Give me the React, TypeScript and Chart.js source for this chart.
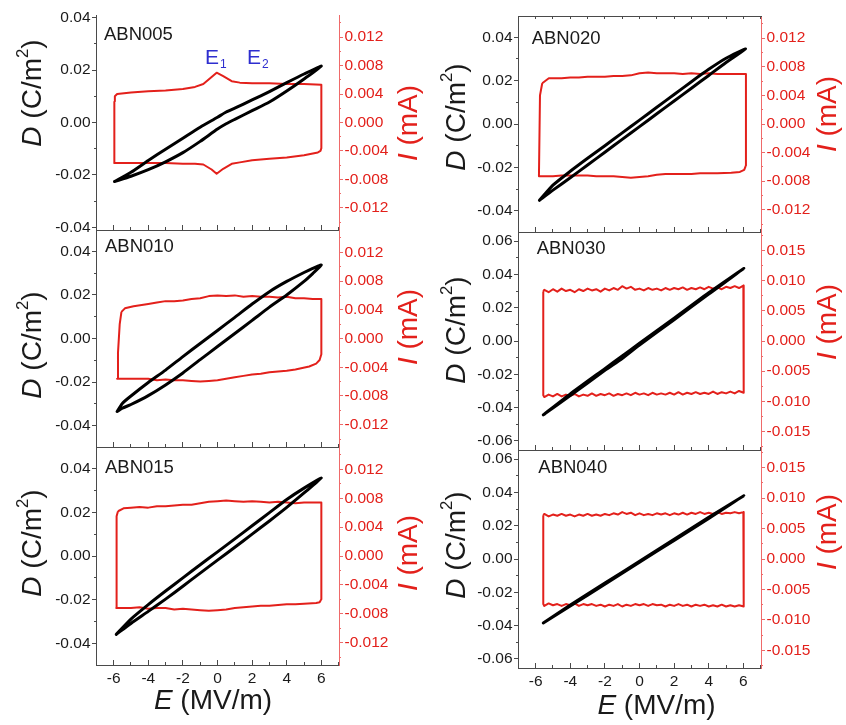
import React, { useEffect, useRef } from "react";
import { Chart, registerables } from "chart.js";

Chart.register(...registerables);

const W = 846;
const H = 725;
const FONT = "'Liberation Sans', Arial, Helvetica, sans-serif";
const TEXT = "#1a1a1a";
const AXIS = "#4a4a4a";
const RED = "#e3201b";
const RED_AXIS = "#ef6a6a";
const BLUE = "#2e2ecf";

// ---------- shared E axis ----------
const E_LIMIT = 7.02;
const E_MAJOR_STEP = 2;
const E_MINOR_STEP = 1;

// ---------- ABN005 ----------
const ABN005_D_E = [-5.95, -5, -4, -3, -2, -1, 0, 0.5, 1, 2, 3, 4, 5, 6, 5, 4, 3, 2, 1, 0.5, 0, -1, -2, -3, -4, -5, -5.95];
const ABN005_D = [-0.0225, -0.0205, -0.018, -0.015, -0.0115, -0.0072, -0.0025, -0.0005, 0.0012, 0.0045, 0.0078, 0.012, 0.0166, 0.0215,
  0.0185, 0.0152, 0.0118, 0.0086, 0.0055, 0.004, 0.002, -0.0018, -0.006, -0.0102, -0.0145, -0.019, -0.0225];
const ABN005_I_E = [-5.96, -5.93, -5.8, -5, -4, -3, -2, -1.3, -0.82, -0.34, -0.05, 0.33, 0.82, 1.29, 2, 3, 4, 5, 6.0,
  6.0, 5.95, 5.8, 5, 4, 3, 2, 1.29, 0.82, 0.33, -0.05, -0.34, -0.82, -1.3, -2, -3, -4, -5, -5.97, -5.96];
const ABN005_I = [0.003, 0.0037, 0.004, 0.0042, 0.0044, 0.0045, 0.0047, 0.005, 0.0054, 0.0064, 0.007, 0.0065, 0.0058, 0.0056, 0.0055, 0.0055, 0.0054, 0.0054, 0.0053,
  -0.0036, -0.004, -0.0042, -0.0046, -0.0049, -0.0051, -0.0053, -0.0056, -0.0058, -0.0065, -0.0072, -0.0066, -0.0059, -0.0058, -0.0058, -0.0057, -0.0057, -0.0057, -0.0057, 0.003];

// ---------- ABN010 ----------
const ABN010_D_E = [-5.8, -5.5, -5, -4, -3, -2, -1, 0, 1, 2, 3, 4, 5, 5.5, 6, 5.5, 5, 4, 3, 2, 1, 0, -1, -2, -3, -4, -5, -5.5, -5.8];
const ABN010_D = [-0.0335, -0.032, -0.0303, -0.0262, -0.0213, -0.0158, -0.0097, -0.0037, 0.0023, 0.0083, 0.0144, 0.02, 0.0262, 0.0298, 0.0337,
  0.0322, 0.0303, 0.0262, 0.0215, 0.0158, 0.0097, 0.0037, -0.0023, -0.0083, -0.0145, -0.0202, -0.0264, -0.0298, -0.0335];
const ABN010_I_E = [-5.55, -5.35, -4.85, -4, -3.5, -3, -2.5, -2, -1.5, -1, -0.5, 0, 0.5, 1, 1.5, 2, 2.5, 3, 3.5, 4, 4.5, 5, 5.5, 6.0,
  6.0, 5.9, 5.7, 5.3, 4.9, 4.5, 4, 3.5, 3, 2.5, 2, 1.5, 1, 0.5, 0, -0.5, -1, -1.5, -2, -2.5, -3, -3.5, -4, -4.5, -5, -5.8, -5.75, -5.65, -5.55];
const ABN010_I = [0.0037, 0.0042, 0.0045, 0.0048, 0.005, 0.0052, 0.0052, 0.0053, 0.0055, 0.0056, 0.0059, 0.006, 0.0059, 0.006, 0.0058, 0.0059, 0.0058, 0.0058, 0.0057, 0.0058, 0.0056, 0.0056, 0.0055, 0.0055,
  -0.0022, -0.003, -0.0035, -0.0039, -0.0041, -0.0043, -0.0045, -0.0046, -0.0047, -0.0049, -0.005, -0.0052, -0.0054, -0.0056, -0.0058, -0.0059, -0.006, -0.0059, -0.0058, -0.0058, -0.0057, -0.0058, -0.0056, -0.0056, -0.0056, -0.0056,
  -0.002, 0.002, 0.0037];

// ---------- ABN015 ----------
const ABN015_D_E = [-5.85, -5, -4, -3, -2, -1, 0, 1, 2, 3, 4, 5, 6, 5, 4, 3, 2, 1, 0, -1, -2, -3, -4, -5, -5.85];
const ABN015_D = [-0.0358, -0.0308, -0.0253, -0.0197, -0.0138, -0.0078, -0.0019, 0.004, 0.01, 0.016, 0.0222, 0.0288, 0.0356,
  0.031, 0.0258, 0.0198, 0.0138, 0.0078, 0.0019, -0.004, -0.01, -0.016, -0.0222, -0.0288, -0.0358];
const ABN015_I_E = [-5.75, -5.43, -5, -4.5, -4, -3.5, -3, -2.5, -2, -1.5, -1, -0.5, 0, 0.5, 1, 1.5, 2, 2.5, 3, 3.5, 4, 4.5, 5, 5.5, 6.0,
  6.0, 5.9, 5.7, 5, 4.5, 4, 3.5, 3, 2.5, 2, 1.5, 1, 0.5, 0, -0.5, -1, -1.5, -2, -2.5, -3, -3.5, -4, -4.5, -5, -5.85, -5.83, -5.75];
const ABN015_I = [0.0062, 0.0066, 0.0067, 0.0068, 0.0067, 0.0069, 0.0069, 0.007, 0.0071, 0.0071, 0.0073, 0.0075, 0.0076, 0.0077, 0.0076, 0.0075, 0.0076, 0.0075, 0.0074, 0.0075, 0.0074, 0.0073, 0.0074, 0.0074, 0.0074,
  -0.006, -0.0064, -0.0065, -0.0066, -0.0067, -0.0067, -0.0068, -0.0069, -0.0069, -0.007, -0.0071, -0.0072, -0.0074, -0.0075, -0.0076, -0.0075, -0.0074, -0.0073, -0.0074, -0.0072, -0.0072, -0.0073, -0.0071, -0.0072, -0.0072,
  0.0055, 0.0062];

// ---------- ABN020 ----------
const ABN020_D_E = [-5.78, -5, -4, -3, -2, -1, 0, 1, 2, 3, 4, 5, 6.13, 5, 4, 3, 2, 1, 0, -1, -2, -3, -4, -5, -5.78];
const ABN020_D = [-0.0352, -0.0305, -0.0248, -0.0189, -0.013, -0.0071, -0.0012, 0.0047, 0.0106, 0.0165, 0.0224, 0.0284, 0.0346,
  0.0303, 0.0252, 0.0195, 0.0136, 0.0077, 0.0018, -0.0041, -0.01, -0.0158, -0.0218, -0.0282, -0.0352];
const ABN020_I_E = [-5.62, -5.24, -5, -4.5, -4, -3.5, -3, -2.5, -2, -1.5, -1, -0.5, 0, 0.5, 1, 1.5, 2, 2.5, 3, 3.5, 4, 4.5, 5, 5.5, 6.15,
  6.15, 6.05, 5.8, 5.3, 4.5, 4, 3.5, 3, 2.5, 2, 1.5, 1, 0.5, 0, -0.5, -1, -1.5, -2, -2.5, -3, -3.5, -4, -4.5, -5, -5.81, -5.75, -5.62];
const ABN020_I = [0.0057, 0.0064, 0.0064, 0.0064, 0.0065, 0.0065, 0.0066, 0.0066, 0.0066, 0.0067, 0.0067, 0.0068, 0.0071, 0.0072, 0.0071, 0.0071, 0.0071, 0.007, 0.0071, 0.007, 0.0071, 0.007, 0.007, 0.007, 0.007,
  -0.0058, -0.0064, -0.0067, -0.0068, -0.0069, -0.0069, -0.0069, -0.007, -0.007, -0.007, -0.007, -0.0071, -0.0073, -0.0074, -0.0075, -0.0074, -0.0073, -0.0073, -0.0073, -0.0072, -0.0072, -0.0072, -0.0072, -0.0073, -0.0073,
  0.004, 0.0057];

// ---------- ABN030 ----------
const ABN030_D_E = [-5.56, -4, -2, -1, 0, 2, 4, 6.03, 4, 2, 0, -1, -2, -4, -5.56];
const ABN030_D = [-0.0444, -0.0328, -0.0176, -0.0105, -0.0024, 0.0128, 0.0282, 0.0436, 0.029, 0.0137, -0.0014, -0.009, -0.0166, -0.0318, -0.0444];
const ABN030_I_E = [-5.56, -5.5, -5.25, -5, -4.75, -4.5, -4.25, -4, -3.75, -3.5, -3.25, -3, -2.75, -2.5, -2.25, -2, -1.75, -1.5, -1.25, -1,
  -0.75, -0.5, -0.25, 0, 0.25, 0.5, 0.75, 1, 1.25, 1.5, 1.75, 2, 2.25, 2.5, 2.75, 3, 3.25, 3.5, 3.75, 4, 4.25, 4.5, 4.75, 5, 5.25, 5.5, 5.75, 6, 6.03];
const ABN030_I_TOP = [
  0.0082, 0.0085, 0.0081, 0.0086, 0.0082, 0.0087, 0.0083,
  0.0085, 0.0081, 0.0086, 0.0083, 0.0087, 0.0084, 0.0086,
  0.0082, 0.0087, 0.0084, 0.0088, 0.0085, 0.0091, 0.0087,
  0.009, 0.0085, 0.0087, 0.0084, 0.0088, 0.0085, 0.0087,
  0.0084, 0.0088, 0.0085, 0.0088, 0.0086, 0.0089, 0.0085,
  0.0088, 0.0086, 0.0089, 0.0086, 0.009, 0.0087, 0.0089,
  0.0086, 0.009, 0.0088, 0.0091, 0.0088, 0.0092, 0.0091];
const ABN030_I_BOTTOM = [
  -0.009, -0.0093, -0.0089, -0.0092, -0.0088, -0.0092, -0.0089,
  -0.0091, -0.0088, -0.0092, -0.0089, -0.0091, -0.0087, -0.0091,
  -0.0088, -0.009, -0.0087, -0.0091, -0.0088, -0.009, -0.0087,
  -0.009, -0.0086, -0.0089, -0.0087, -0.009, -0.0086, -0.0089,
  -0.0087, -0.0089, -0.0086, -0.0089, -0.0085, -0.0089, -0.0086,
  -0.0088, -0.0085, -0.0088, -0.0086, -0.0088, -0.0084, -0.0088,
  -0.0085, -0.0087, -0.0084, -0.0087, -0.0083, -0.0086, -0.0083];

// ---------- ABN040 ----------
const ABN040_D_E = [-5.56, -4, -2, 0, 2, 4, 6.03, 4, 2, 0, -2, -4, -5.56];
const ABN040_D = [-0.0384, -0.0283, -0.0151, -0.002, 0.0112, 0.0244, 0.038, 0.025, 0.0118, -0.0014, -0.0145, -0.0277, -0.0384];
const ABN040_I_E = [-5.56, -5.5, -5.25, -5, -4.75, -4.5, -4.25, -4, -3.75, -3.5, -3.25, -3, -2.75, -2.5, -2.25, -2, -1.75, -1.5, -1.25, -1,
  -0.75, -0.5, -0.25, 0, 0.25, 0.5, 0.75, 1, 1.25, 1.5, 1.75, 2, 2.25, 2.5, 2.75, 3, 3.25, 3.5, 3.75, 4, 4.25, 4.5, 4.75, 5, 5.25, 5.5, 5.75, 6, 6.03];
const ABN040_I_TOP = [
  0.0072, 0.0074, 0.007, 0.0073, 0.0071, 0.0074, 0.0071,
  0.0073, 0.007, 0.0073, 0.0071, 0.0074, 0.0071, 0.0073,
  0.0071, 0.0074, 0.0072, 0.0075, 0.0073, 0.0077, 0.0074,
  0.0076, 0.0072, 0.0075, 0.0072, 0.0074, 0.0072, 0.0075,
  0.0073, 0.0075, 0.0072, 0.0075, 0.0073, 0.0076, 0.0073,
  0.0076, 0.0074, 0.0077, 0.0074, 0.0076, 0.0074, 0.0077,
  0.0074, 0.0076, 0.0075, 0.0077, 0.0075, 0.0077, 0.0077];
const ABN040_I_BOTTOM = [
  -0.0074, -0.0077, -0.0073, -0.0076, -0.0074, -0.0077, -0.0074,
  -0.0076, -0.0073, -0.0077, -0.0074, -0.0076, -0.0074, -0.0077,
  -0.0075, -0.0078, -0.0075, -0.0077, -0.0074, -0.0078, -0.0075,
  -0.0077, -0.0074, -0.0076, -0.0074, -0.0077, -0.0074, -0.0076,
  -0.0075, -0.0078, -0.0075, -0.0077, -0.0074, -0.0077, -0.0075,
  -0.0078, -0.0075, -0.0077, -0.0075, -0.0078, -0.0076, -0.0078,
  -0.0075, -0.0078, -0.0076, -0.0078, -0.0076, -0.0078, -0.0077];

// band (top branch left->right, bottom branch right->left, closed)
function bandLoopE(es: number[]) {
  return [...es, ...es.slice().reverse(), es[0]];
}
function bandLoopI(top: number[], bottom: number[]) {
  return [...top, ...bottom.slice().reverse(), top[0]];
}

type Panel = {
  name: string;
  dE: number[]; d: number[];
  iE: number[]; i: number[];
  area: { l: number; t: number; r: number; b: number };
  dMax: number; dStep: number; dMinor: number;
  iMax: number; iStep: number; iMinor: number;
  xLabels: boolean; topLine: boolean;
};

const PANELS: Panel[] = [
  { name: "ABN005", dE: ABN005_D_E, d: ABN005_D, iE: ABN005_I_E, i: ABN005_I,
    area: { l: 96, t: 15, r: 339, b: 230 }, dMax: 0.041, dStep: 0.02, dMinor: 0.01,
    iMax: 0.0151, iStep: 0.004, iMinor: 0.002, xLabels: false, topLine: false },
  { name: "ABN010", dE: ABN010_D_E, d: ABN010_D, iE: ABN010_I_E, i: ABN010_I,
    area: { l: 96, t: 230, r: 339, b: 447 }, dMax: 0.0498, dStep: 0.02, dMinor: 0.01,
    iMax: 0.0151, iStep: 0.004, iMinor: 0.002, xLabels: false, topLine: false },
  { name: "ABN015", dE: ABN015_D_E, d: ABN015_D, iE: ABN015_I_E, i: ABN015_I,
    area: { l: 96, t: 447, r: 339, b: 665 }, dMax: 0.0498, dStep: 0.02, dMinor: 0.01,
    iMax: 0.0151, iStep: 0.004, iMinor: 0.002, xLabels: true, topLine: false },
  { name: "ABN020", dE: ABN020_D_E, d: ABN020_D, iE: ABN020_I_E, i: ABN020_I,
    area: { l: 518, t: 16, r: 761, b: 232 }, dMax: 0.0498, dStep: 0.02, dMinor: 0.01,
    iMax: 0.0151, iStep: 0.004, iMinor: 0.002, xLabels: false, topLine: true },
  { name: "ABN030", dE: ABN030_D_E, d: ABN030_D, iE: bandLoopE(ABN030_I_E), i: bandLoopI(ABN030_I_TOP, ABN030_I_BOTTOM),
    area: { l: 518, t: 232, r: 761, b: 450 }, dMax: 0.0655, dStep: 0.02, dMinor: 0.01,
    iMax: 0.0181, iStep: 0.005, iMinor: 0.0025, xLabels: false, topLine: false },
  { name: "ABN040", dE: ABN040_D_E, d: ABN040_D, iE: bandLoopE(ABN040_I_E), i: bandLoopI(ABN040_I_TOP, ABN040_I_BOTTOM),
    area: { l: 518, t: 450, r: 761, b: 668 }, dMax: 0.0655, dStep: 0.02, dMinor: 0.01,
    iMax: 0.0179, iStep: 0.005, iMinor: 0.0025, xLabels: true, topLine: false },
];

const SIDE_W = 70; // width reserved for each y axis with labels
const BOTTOM_H = 40; // height reserved for the E axis with labels

function fixFit(size: number) {
  return (s: any) => {
    if (s.isHorizontal()) s.height = size;
    else s.width = size;
    s.paddingTop = 0;
    s.paddingBottom = 0;
    s.paddingLeft = 0;
    s.paddingRight = 0;
  };
}

function buildConfig(p: Panel): any {
  const a = p.area;
  const tickFont = { family: FONT, size: 15.5 };
  const xBase = { type: "linear", axis: "x", min: -E_LIMIT, max: E_LIMIT };
  const scales: any = {
    x: {
      ...xBase, position: "bottom", weight: 0, afterFit: fixFit(BOTTOM_H),
      ticks: { stepSize: E_MAJOR_STEP, includeBounds: false, autoSkip: false, maxRotation: 0, display: p.xLabels,
        color: TEXT, font: tickFont, padding: 9.5, callback: (v: any) => String(v) },
      grid: { drawOnChartArea: false, drawTicks: true, tickLength: -5, color: AXIS, tickColor: AXIS, tickWidth: 1 },
      border: { display: true, color: AXIS, width: 1 },
    },
    xm: {
      ...xBase, position: "bottom", weight: -1, afterFit: fixFit(0),
      ticks: { stepSize: E_MINOR_STEP, includeBounds: false, display: false },
      grid: { drawOnChartArea: false, drawTicks: true, tickLength: -3, color: AXIS, tickColor: AXIS, tickWidth: 1 },
      border: { display: false },
    },
    y: {
      type: "linear", axis: "y", position: "left", weight: 0, min: -p.dMax, max: p.dMax, afterFit: fixFit(SIDE_W),
      ticks: { stepSize: p.dStep, includeBounds: false, autoSkip: false, color: TEXT, font: tickFont, padding: 1.5,
        callback: (v: any) => Number(v).toFixed(2) },
      grid: { drawOnChartArea: false, drawTicks: true, tickLength: 4, color: AXIS, tickColor: AXIS, tickWidth: 1 },
      border: { display: true, color: AXIS, width: 1 },
    },
    ym: {
      type: "linear", axis: "y", position: "left", weight: -1, min: -p.dMax, max: p.dMax, afterFit: fixFit(0),
      ticks: { stepSize: p.dMinor, includeBounds: false, display: false },
      grid: { drawOnChartArea: false, drawTicks: true, tickLength: 2, color: AXIS, tickColor: AXIS, tickWidth: 1 },
      border: { display: false },
    },
    yI: {
      type: "linear", axis: "y", position: "right", weight: 0, min: -p.iMax, max: p.iMax, afterFit: fixFit(SIDE_W),
      ticks: { stepSize: p.iStep, includeBounds: false, autoSkip: false, color: RED, font: tickFont, padding: 1.5,
        callback: (v: any) => Number(v).toFixed(3) },
      grid: { drawOnChartArea: false, drawTicks: true, tickLength: 4, color: RED_AXIS, tickColor: RED_AXIS, tickWidth: 1 },
      border: { display: true, color: RED_AXIS, width: 1 },
    },
    yIm: {
      type: "linear", axis: "y", position: "right", weight: -1, min: -p.iMax, max: p.iMax, afterFit: fixFit(0),
      ticks: { stepSize: p.iMinor, includeBounds: false, display: false },
      grid: { drawOnChartArea: false, drawTicks: true, tickLength: 2, color: RED_AXIS, tickColor: RED_AXIS, tickWidth: 1 },
      border: { display: false },
    },
  };
  if (p.topLine) {
    scales.xt = {
      ...xBase, position: "top", afterFit: fixFit(0),
      ticks: { stepSize: E_MINOR_STEP, includeBounds: false, display: false },
      grid: { drawOnChartArea: false, drawTicks: true, tickLength: -3, color: AXIS, tickColor: AXIS, tickWidth: 1 },
      border: { display: true, color: AXIS, width: 1 },
    };
  }
  const dPts = p.dE.map((e, k) => ({ x: e, y: p.d[k] }));
  const iPts = p.iE.map((e, k) => ({ x: e, y: p.i[k] }));
  return {
    type: "scatter",
    data: {
      datasets: [
        { label: "D", data: dPts, xAxisID: "x", yAxisID: "y", showLine: true, borderColor: "#000", backgroundColor: "#000",
          borderWidth: 3, pointRadius: 0, tension: 0.2, borderJoinStyle: "round", borderCapStyle: "round" },
        { label: "I", data: iPts, xAxisID: "x", yAxisID: "yI", showLine: true, borderColor: RED, backgroundColor: RED,
          borderWidth: 2, pointRadius: 0, tension: 0, borderJoinStyle: "round" },
      ],
    },
    options: {
      animation: false,
      responsive: false,
      devicePixelRatio: 1,
      events: [],
      layout: { padding: { left: a.l - SIDE_W, top: a.t, right: W - a.r - SIDE_W, bottom: H - a.b - BOTTOM_H } },
      plugins: { legend: { display: false }, tooltip: { enabled: false }, title: { display: false } },
      scales,
    },
  };
}

function PanelChart({ p }: { p: Panel }) {
  const ref = useRef<HTMLCanvasElement | null>(null);
  useEffect(() => {
    if (!ref.current) return;
    const chart = new Chart(ref.current, buildConfig(p));
    return () => chart.destroy();
  }, [p]);
  return <canvas ref={ref} width={W} height={H} style={{ position: "absolute", left: 0, top: 0, width: W, height: H }} />;
}

const TITLE_SIZE = 28;

function DTitle({ cx, cy }: { cx: number; cy: number }) {
  return (
    <div style={{ position: "absolute", left: cx, top: cy, transform: "translate(-50%,-50%) rotate(-90deg)",
      fontFamily: FONT, fontSize: TITLE_SIZE, lineHeight: 1, whiteSpace: "nowrap", color: TEXT }}>
      <span style={{ fontStyle: "italic" }}>D</span> (C/m
      <span style={{ fontSize: "0.6em", position: "relative", top: "-0.75em" }}>2</span>)
    </div>
  );
}

function ITitle({ cx, cy }: { cx: number; cy: number }) {
  return (
    <div style={{ position: "absolute", left: cx, top: cy, transform: "translate(-50%,-50%) rotate(-90deg)",
      fontFamily: FONT, fontSize: TITLE_SIZE, lineHeight: 1, whiteSpace: "nowrap", color: RED }}>
      <span style={{ fontStyle: "italic" }}>I</span> (mA)
    </div>
  );
}

function ETitle({ cx, cy }: { cx: number; cy: number }) {
  return (
    <div style={{ position: "absolute", left: cx, top: cy, transform: "translate(-50%,-50%)",
      fontFamily: FONT, fontSize: TITLE_SIZE, lineHeight: 1, whiteSpace: "nowrap", color: TEXT }}>
      <span style={{ fontStyle: "italic" }}>E</span> (MV/m)
    </div>
  );
}

const LABEL_SIZE = 18.5;
function PanelLabel({ x, baseline, text }: { x: number; baseline: number; text: string }) {
  return (
    <div style={{ position: "absolute", left: x, top: baseline - 0.8465 * LABEL_SIZE, fontFamily: FONT,
      fontSize: LABEL_SIZE, lineHeight: 1, color: TEXT, whiteSpace: "nowrap" }}>{text}</div>
  );
}

function SubE({ x, baseline, sub }: { x: number; baseline: number; sub: string }) {
  const size = 21;
  return (
    <div style={{ position: "absolute", left: x, top: baseline - 0.8465 * size, fontFamily: FONT,
      fontSize: size, lineHeight: 1, color: BLUE, whiteSpace: "nowrap" }}>
      E<span style={{ fontSize: 12, position: "relative", top: 4, marginLeft: 1 }}>{sub}</span>
    </div>
  );
}

export default function App() {
  return (
    <div style={{ position: "absolute", left: 0, top: 0, width: W, height: H, overflow: "hidden", background: "#fff" }}>
      {PANELS.map((p) => (
        <PanelChart key={p.name} p={p} />
      ))}
      <PanelLabel x={104} baseline={40.5} text="ABN005" />
      <PanelLabel x={105} baseline={253} text="ABN010" />
      <PanelLabel x={105} baseline={473.3} text="ABN015" />
      <PanelLabel x={531.7} baseline={45} text="ABN020" />
      <PanelLabel x={536.7} baseline={255} text="ABN030" />
      <PanelLabel x={538.3} baseline={473.3} text="ABN040" />
      <SubE x={205} baseline={63.3} sub="1" />
      <SubE x={247} baseline={63.3} sub="2" />
      <DTitle cx={31.5} cy={93} />
      <DTitle cx={31.5} cy={345} />
      <DTitle cx={31.5} cy={543} />
      <DTitle cx={456} cy={117} />
      <DTitle cx={456} cy={330} />
      <DTitle cx={456} cy={545} />
      <ITitle cx={408} cy={123} />
      <ITitle cx={408} cy={327} />
      <ITitle cx={408} cy={553} />
      <ITitle cx={827} cy={114} />
      <ITitle cx={827} cy={322} />
      <ITitle cx={827} cy={532} />
      <ETitle cx={213} cy={700} />
      <ETitle cx={656.5} cy={705} />
    </div>
  );
}
